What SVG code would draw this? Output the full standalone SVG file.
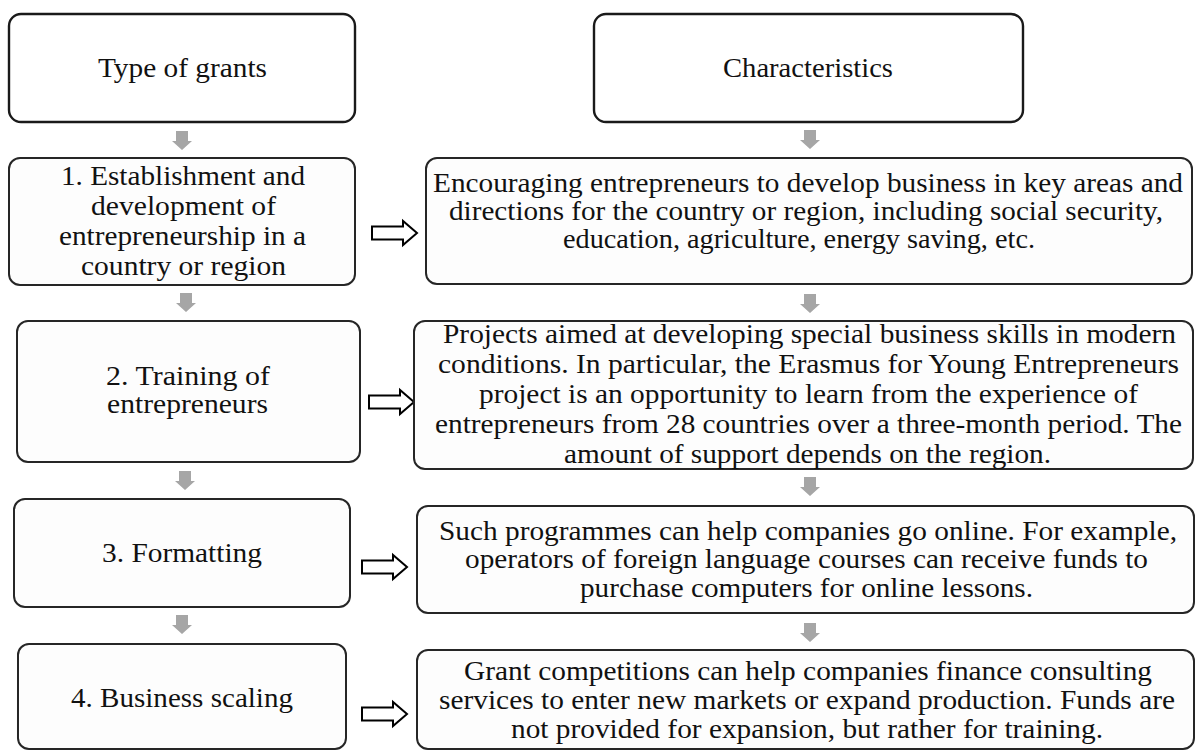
<svg xmlns="http://www.w3.org/2000/svg" width="1198" height="751" viewBox="0 0 1198 751">
<style>
.hdr{fill:#ffffff;stroke:#1a1a1a;stroke-width:2.4}
.box{fill:#fdfdfd;stroke:#262626;stroke-width:2}
.down{fill:#a6a6a6}
.side{fill:#ffffff;stroke:#000;stroke-width:2;stroke-linejoin:miter}
</style>
<defs>
<path id="dn" d="M-6,0 H6 V10 H10 L0,19 L-10,10 H-6 Z"/>
<path id="rt" d="M0,-6.5 H31 V-12 L45,0 L31,12 V6.5 H0 Z"/>
</defs>
<rect width="1198" height="751" fill="#ffffff"/>

<g id="connectors">
<use href="#dn" class="down" x="182" y="131"/>
<use href="#dn" class="down" x="186" y="293"/>
<use href="#dn" class="down" x="185" y="471"/>
<use href="#dn" class="down" x="182" y="615"/>
<use href="#dn" class="down" x="810" y="130"/>
<use href="#dn" class="down" x="810" y="294"/>
<use href="#dn" class="down" x="810" y="477"/>
<use href="#dn" class="down" x="810" y="623"/>
<use href="#rt" class="side" x="372" y="233"/>
<use href="#rt" class="side" x="369" y="402"/>
<use href="#rt" class="side" x="362" y="567"/>
<use href="#rt" class="side" x="362" y="714"/>
</g>

<g font-family="Liberation Serif" font-size="27" fill="#111">
<g id="type-of-grants">
<rect class="hdr" x="9" y="14" width="346" height="108" rx="12"/>
<text x="98" y="77" textLength="169" lengthAdjust="spacingAndGlyphs">Type of grants</text>
</g>
<g id="characteristics">
<rect class="hdr" x="594" y="14" width="429" height="108" rx="12"/>
<text x="723" y="77" textLength="170" lengthAdjust="spacingAndGlyphs">Characteristics</text>
</g>

<g id="grant-1">
<rect class="box" x="9" y="158" width="346" height="127" rx="11"/>
<text x="61" y="185" textLength="244" lengthAdjust="spacingAndGlyphs">1. Establishment and</text>
<text x="91" y="215" textLength="185" lengthAdjust="spacingAndGlyphs">development of</text>
<text x="59" y="245" textLength="247" lengthAdjust="spacingAndGlyphs">entrepreneurship in a</text>
<text x="81" y="275" textLength="205" lengthAdjust="spacingAndGlyphs">country or region</text>
</g>
<g id="char-1">
<rect class="box" x="426" y="158" width="766" height="126" rx="11"/>
<text x="433" y="192" textLength="750" lengthAdjust="spacingAndGlyphs">Encouraging entrepreneurs to develop business in key areas and</text>
<text x="449" y="220" textLength="714" lengthAdjust="spacingAndGlyphs">directions for the country or region, including social security,</text>
<text x="563" y="248" textLength="472" lengthAdjust="spacingAndGlyphs">education, agriculture, energy saving, etc.</text>
</g>

<g id="grant-2">
<rect class="box" x="17" y="321" width="343" height="141" rx="11"/>
<text x="106" y="385" textLength="164" lengthAdjust="spacingAndGlyphs">2. Training of</text>
<text x="107" y="413" textLength="161" lengthAdjust="spacingAndGlyphs">entrepreneurs</text>
</g>
<g id="char-2">
<rect class="box" x="414" y="321" width="779" height="148" rx="11"/>
<text x="443" y="343" textLength="733" lengthAdjust="spacingAndGlyphs">Projects aimed at developing special business skills in modern</text>
<text x="438" y="373" textLength="741" lengthAdjust="spacingAndGlyphs">conditions. In particular, the Erasmus for Young Entrepreneurs</text>
<text x="479" y="403" textLength="659" lengthAdjust="spacingAndGlyphs">project is an opportunity to learn from the experience of</text>
<text x="435" y="433" textLength="747" lengthAdjust="spacingAndGlyphs">entrepreneurs from 28 countries over a three-month period. The</text>
<text x="564" y="463" textLength="487" lengthAdjust="spacingAndGlyphs">amount of support depends on the region.</text>
</g>

<g id="grant-3">
<rect class="box" x="14" y="499" width="336" height="108" rx="11"/>
<text x="102" y="562" textLength="160" lengthAdjust="spacingAndGlyphs">3. Formatting</text>
</g>
<g id="char-3">
<rect class="box" x="417" y="506" width="777" height="107" rx="11"/>
<text x="439" y="540" textLength="738" lengthAdjust="spacingAndGlyphs">Such programmes can help companies go online. For example,</text>
<text x="465" y="568" textLength="683" lengthAdjust="spacingAndGlyphs">operators of foreign language courses can receive funds to</text>
<text x="580" y="597" textLength="453" lengthAdjust="spacingAndGlyphs">purchase computers for online lessons.</text>
</g>

<g id="grant-4">
<rect class="box" x="18" y="644" width="328" height="105" rx="11"/>
<text x="71" y="707" textLength="222" lengthAdjust="spacingAndGlyphs">4. Business scaling</text>
</g>
<g id="char-4">
<rect class="box" x="417" y="650" width="777" height="99" rx="11"/>
<text x="464" y="680" textLength="688" lengthAdjust="spacingAndGlyphs">Grant competitions can help companies finance consulting</text>
<text x="439" y="709" textLength="736" lengthAdjust="spacingAndGlyphs">services to enter new markets or expand production. Funds are</text>
<text x="511" y="738" textLength="592" lengthAdjust="spacingAndGlyphs">not provided for expansion, but rather for training.</text>
</g>
</g>
</svg>
